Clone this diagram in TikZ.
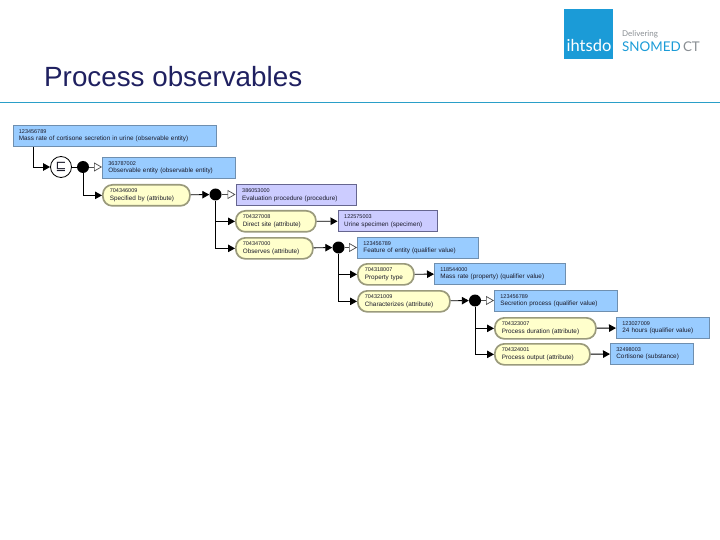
\documentclass[tikz,border=0pt]{standalone}
\usepackage{fontspec}
\setmainfont{Liberation Sans}
\newfontfamily\logofont{Lato}
\newfontfamily\symfont{DejaVu Sans}
\usetikzlibrary{arrows.meta,calc,positioning}
\definecolor{titlecol}{HTML}{1F2060}
\definecolor{rulecol}{HTML}{2A9FC8}
\definecolor{logoblue}{HTML}{1B9BD7}
\definecolor{logogray}{HTML}{8A8F94}
\definecolor{conceptfill}{HTML}{99CCFF}
\definecolor{conceptline}{HTML}{6F8FAF}
\definecolor{primfill}{HTML}{CCCCFF}
\definecolor{primline}{HTML}{66668F}
\definecolor{pillfill}{HTML}{FFFFCC}
\definecolor{pillline}{HTML}{9A9A7C}
\definecolor{txt}{HTML}{1A1A2A}
\tikzset{
  every node/.style={font=\fontsize{6.35}{7.3}\selectfont,text=txt},
  defbox/.style={anchor=north west,draw=conceptline,fill=conceptfill,line width=0.8pt,minimum height=21pt,inner xsep=6pt,inner ysep=0pt,align=left},
  primbox/.style={defbox,draw=primline,fill=primfill,line width=1.4pt},
  pill/.style={anchor=north west,draw=pillline,fill=pillfill,line width=1.7pt,rounded corners=9.5pt,minimum height=21pt,inner xsep=7pt,inner ysep=0pt,align=left},
  wd/.style={text width=#1pt-12pt},
  pw/.style={text width=#1pt-14pt},
  dot/.style={circle,fill=black,minimum size=12pt,inner sep=0pt},
  subs/.style={circle,draw=black,fill=white,line width=0.8pt,minimum size=21pt,inner sep=0pt},
  conn/.style={draw=black,line width=0.9pt,-{Triangle[length=7pt,width=7.5pt]}},
  conntee/.style={draw=black,line width=0.9pt},
  open/.style={draw=black!70,line width=0.7pt,-{Triangle[open,fill=white,length=8pt,width=9pt]}},
}
\newcommand{\two}[2]{\makebox[\linewidth][l]{\fontsize{5.5}{7.3}\selectfont #1}\\\makebox[\linewidth][l]{#2}}
\begin{document}
\begin{tikzpicture}[x=1pt,y=-1pt]
\useasboundingbox (0,0) rectangle (720,540);
% header
\fill[logoblue] (564,9) rectangle (613,59);
\node[anchor=base,font=\logofont\fontsize{16.5}{18}\selectfont,text=white,inner sep=0pt] (lg1) at (589,52) {ihtsdo};
\node[anchor=base west,font=\logofont\fontsize{8}{9}\selectfont,text=logogray,inner sep=0pt] (lg2) at (622,36.5) {Delivering};
\node[anchor=base west,font=\logofont\fontsize{13.4}{14}\selectfont,text=logoblue,inner sep=0pt] (lg3) at (622,51.5) {SNOMED\,\textcolor{logogray}{CT}};
\node[anchor=base west,font=\fontsize{27.8}{30}\selectfont,text=titlecol,inner sep=0pt] (title) at (44,87) {Process observables};
\draw[draw=rulecol,line width=1pt] (0,103) -- (720,103);
% concept boxes
\node[defbox,wd=203.5] (a) at (12.5,125) {\two{123456789}{Mass rate of cortisone secretion in urine (observable entity)}};
\node[subs] (sub) at (61,167) {\symfont\fontsize{13}{13}\selectfont ⊑};
\node[dot] (d1) at (83,167) {};
\node[defbox,wd=133] (obs) at (102,157) {\two{363787002}{Observable entity (observable entity)}};
\node[pill,pw=87] (p1) at (102,184) {\two{704346009}{Specified by (attribute)}};
\node[dot] (d2) at (215.5,194.5) {};
\node[primbox,wd=120] (proc) at (235.5,184) {\two{386053000}{Evaluation procedure (procedure)}};
\node[pill,pw=80] (p2) at (235,210) {\two{704327008}{Direct site (attribute)}};
\node[primbox,wd=99] (urine) at (337.5,210) {\two{122575003}{Urine specimen (specimen)}};
\node[pill,pw=77] (p3) at (235,237) {\two{704347000}{Observes (attribute)}};
\node[dot] (d3) at (338.5,247.5) {};
\node[defbox,wd=121] (feat) at (357,237) {\two{123456789}{Feature of entity (qualifier value)}};
\node[pill,pw=56] (p4) at (357,263) {\two{704318007}{Property type}};
\node[defbox,wd=131] (mass) at (434,263) {\two{118544000}{Mass rate (property) (qualifier value)}};
\node[pill,pw=92] (p5) at (357,290) {\two{704321009}{Characterizes (attribute)}};
\node[dot] (d4) at (475,300.5) {};
\node[defbox,wd=123] (sec) at (494,290) {\two{123456789}{Secretion process (qualifier value)}};
\node[pill,pw=101] (p6) at (494,317) {\two{704323007}{Process duration (attribute)}};
\node[defbox,wd=93] (hrs) at (616,317) {\two{123027009}{24 hours (qualifier value)}};
\node[pill,pw=95] (p7) at (494,343) {\two{704324001}{Process output (attribute)}};
\node[defbox,wd=83] (cort) at (610,343) {\two{32498003}{Cortisone (substance)}};
% connectors
\draw[conn] ($(a.south west)+(20.5,0)$) |- (sub);
\draw[conntee] (sub) -- (d1);
\draw[open] (d1) -- (obs.west |- d1);
\draw[conn] (d1) |- (p1.west);
\draw[conn] (p1) -- (d2);
\draw[open] (d2) -- (proc.west |- d2);
\draw[conn] (d2) |- (p2.west);
\draw[conn] (d2) |- (p3.west);
\draw[conn] (p2) -- (urine);
\draw[conn] (p3) -- (d3);
\draw[open] (d3) -- (feat.west |- d3);
\draw[conn] (d3) |- (p4.west);
\draw[conn] (d3) |- (p5.west);
\draw[conn] (p4) -- (mass);
\draw[conn] (p5) -- (d4);
\draw[open] (d4) -- (sec.west |- d4);
\draw[conn] (d4) |- (p6.west);
\draw[conn] (d4) |- (p7.west);
\draw[conn] (p6) -- (hrs);
\draw[conn] (p7) -- (cort);
\end{tikzpicture}
\end{document}
